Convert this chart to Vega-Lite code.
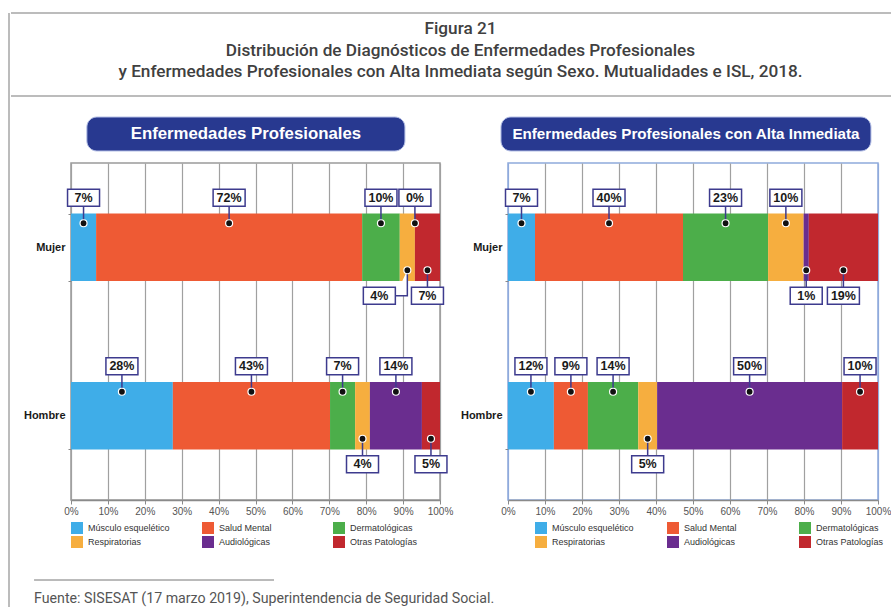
{
  "$schema": "https://vega.github.io/schema/vega-lite/v6.json",
  "background": "white",
  "padding": {"left": 8, "top": 12, "right": 0, "bottom": 0},
  "config": {
    "view": {"stroke": null},
    "font": "Liberation Sans",
    "axisX": {"grid": true, "gridColor": "#a0a0a0", "gridWidth": 1.2, "domainColor": "#8a8a8a", "domainWidth": 1.5, "tickColor": "#8a8a8a", "tickSize": 4, "labelFontSize": 10, "labelColor": "#555555", "labelPadding": 2, "labelFlush": false, "labelOverlap": false, "labelFont": "Liberation Sans"}
  },
  "datasets": {
    "ep": [
      {"sexo": "Mujer", "categoria": "Músculo esquelético", "orden": 1, "valor": 0.068, "pos": "arriba"},
      {"sexo": "Mujer", "categoria": "Salud Mental", "orden": 2, "valor": 0.721, "pos": "arriba"},
      {"sexo": "Mujer", "categoria": "Dermatológicas", "orden": 3, "valor": 0.102, "pos": "arriba"},
      {"sexo": "Mujer", "categoria": "Respiratorias", "orden": 4, "valor": 0.041, "pos": "izq"},
      {"sexo": "Mujer", "categoria": "Audiológicas", "orden": 5, "valor": 0.0, "pos": "arriba"},
      {"sexo": "Mujer", "categoria": "Otras Patologías", "orden": 6, "valor": 0.068, "pos": "abajo"},
      {"sexo": "Hombre", "categoria": "Músculo esquelético", "orden": 1, "valor": 0.276, "pos": "arriba"},
      {"sexo": "Hombre", "categoria": "Salud Mental", "orden": 2, "valor": 0.426, "pos": "arriba"},
      {"sexo": "Hombre", "categoria": "Dermatológicas", "orden": 3, "valor": 0.068, "pos": "arriba"},
      {"sexo": "Hombre", "categoria": "Respiratorias", "orden": 4, "valor": 0.04, "pos": "abajo"},
      {"sexo": "Hombre", "categoria": "Audiológicas", "orden": 5, "valor": 0.141, "pos": "arriba"},
      {"sexo": "Hombre", "categoria": "Otras Patologías", "orden": 6, "valor": 0.049, "pos": "abajo"}
    ],
    "epai": [
      {"sexo": "Mujer", "categoria": "Músculo esquelético", "orden": 1, "valor": 0.073, "pos": "arriba"},
      {"sexo": "Mujer", "categoria": "Salud Mental", "orden": 2, "valor": 0.4, "pos": "arriba"},
      {"sexo": "Mujer", "categoria": "Dermatológicas", "orden": 3, "valor": 0.23, "pos": "arriba"},
      {"sexo": "Mujer", "categoria": "Respiratorias", "orden": 4, "valor": 0.096, "pos": "arriba"},
      {"sexo": "Mujer", "categoria": "Audiológicas", "orden": 5, "valor": 0.014, "pos": "abajo"},
      {"sexo": "Mujer", "categoria": "Otras Patologías", "orden": 6, "valor": 0.187, "pos": "abajo"},
      {"sexo": "Hombre", "categoria": "Músculo esquelético", "orden": 1, "valor": 0.124, "pos": "arriba"},
      {"sexo": "Hombre", "categoria": "Salud Mental", "orden": 2, "valor": 0.092, "pos": "arriba"},
      {"sexo": "Hombre", "categoria": "Dermatológicas", "orden": 3, "valor": 0.136, "pos": "arriba"},
      {"sexo": "Hombre", "categoria": "Respiratorias", "orden": 4, "valor": 0.051, "pos": "abajo"},
      {"sexo": "Hombre", "categoria": "Audiológicas", "orden": 5, "valor": 0.5, "pos": "arriba"},
      {"sexo": "Hombre", "categoria": "Otras Patologías", "orden": 6, "valor": 0.097, "pos": "arriba"}
    ]
  },
  "spacing": 0,
  "hconcat": [
    {
      "width": 1, "height": 594,
      "data": {"values": [{}]},
      "mark": {"type": "rule", "color": "#a6a6a6", "strokeWidth": 1.5},
      "encoding": {"x": {"datum": 1, "type": "quantitative", "scale": {"domain": [0, 1]}, "axis": null}}
    },
    {
      "spacing": 19,
      "vconcat": [
        {
          "width": 820, "height": 83,
          "resolve": {"scale": {"y": "independent"}},
          "layer": [
            {"data": {"values": [{}]},
             "mark": {"type": "rule", "color": "#a6a6a6", "strokeWidth": 1.5},
             "encoding": {"x": {"datum": -0.0732, "type": "quantitative", "scale": {"domain": [0, 1], "nice": false, "zero": false}, "axis": null},
                          "x2": {"datum": 1},
                          "y": {"datum": 1, "type": "quantitative", "scale": {"domain": [0, 1]}, "axis": null}}},
            {"data": {"values": [{}]},
             "mark": {"type": "rule", "color": "#a6a6a6", "strokeWidth": 1.5},
             "encoding": {"x": {"datum": -0.0732, "type": "quantitative"},
                          "x2": {"datum": 1},
                          "y": {"datum": 0, "type": "quantitative", "scale": {"domain": [0, 1]}, "axis": null}}},
            {"data": {"values": [
               {"i": 0, "t": "Figura 21"},
               {"i": 1, "t": "Distribución de Diagnósticos de Enfermedades Profesionales"},
               {"i": 2, "t": "y Enfermedades Profesionales con Alta Inmediata según Sexo. Mutualidades e ISL, 2018."}
             ]},
             "mark": {"type": "text", "font": "Roboto", "fontSize": 17.2, "fontWeight": 500, "color": "#404040"},
             "encoding": {
               "text": {"field": "t"},
               "x": {"datum": 0.475, "type": "quantitative"},
               "y": {"field": "i", "type": "ordinal", "scale": {"type": "point", "padding": 0.93, "align": 0.4}, "axis": null}
             }}
          ]
        },
        {
          "spacing": 30,
          "vconcat": [
            {
              "spacing": 0,
              "resolve": {"legend": {"color": "independent"}},
              "hconcat": [
                {
                  "spacing": 12,
                  "bounds": "flush",
                  "resolve": {"legend": {"color": "independent"}},
                  "vconcat": [
                    {
                      "width": 369, "height": 34,
                      "data": {"values": [{"t": "Enfermedades Profesionales"}]},
                      "layer": [
                        {"mark": {"type": "rect", "cornerRadius": 10, "fill": "#283990", "stroke": "#b4bfe6", "strokeWidth": 1},
                         "encoding": {"x": {"datum": 0.043, "type": "quantitative", "scale": {"domain": [0, 1], "nice": false}, "axis": null}, "x2": {"datum": 0.905}}},
                        {"mark": {"type": "text", "color": "white", "fontWeight": "bold", "fontSize": 16.8, "font": "Liberation Sans"},
                         "encoding": {"text": {"field": "t"}, "x": {"datum": 0.474, "type": "quantitative"}}}
                      ]
                    },
                    {
                      "width": 369, "height": 337,
                      "view": {"stroke": "#9a9a9a", "strokeWidth": 1.5},
                      "data": {"name": "ep"},
                      "encoding": {
                        "y": {"field": "sexo", "type": "nominal", "sort": ["Mujer", "Hombre"], "scale": {"paddingInner": 0.6, "paddingOuter": 0.3},
                              "axis": {"title": null, "labelFontWeight": "bold", "labelFontSize": 11, "labelColor": "#1a1a1a", "labelFont": "Liberation Sans", "labelPadding": 3, "ticks": true, "tickBand": "extent", "tickSize": 3, "tickColor": "#888", "domain": false, "minExtent": 59, "maxExtent": 59}},
                        "order": {"field": "orden", "type": "quantitative"},
                        "detail": {"field": "categoria"}
                      },
                      "layer": [
                        {"mark": {"type": "bar"},
                         "encoding": {
                           "x": {"field": "valor", "type": "quantitative", "stack": "zero", "title": null, "scale": {"domain": [0, 1], "nice": false},
                                 "axis": {"format": ".0%", "values": [0, 0.1, 0.2, 0.3, 0.4, 0.5, 0.6, 0.7, 0.8, 0.9, 1]}},
                           "color": {"field": "categoria", "type": "nominal",
                                     "scale": {"domain": ["Músculo esquelético", "Salud Mental", "Dermatológicas", "Respiratorias", "Audiológicas", "Otras Patologías"],
                                               "range": ["#3fade8", "#ee5a34", "#4cae4a", "#f6ae3f", "#6a2d8f", "#c1282e"]},
                                     "legend": {"title": null, "orient": "bottom", "direction": "horizontal", "columns": 3, "symbolType": "square", "symbolSize": 144, "symbolStrokeWidth": 0, "labelFontSize": 9, "labelColor": "#333", "labelFont": "Liberation Sans", "labelOffset": 5, "rowPadding": 2, "columnPadding": 32, "gridAlign": "all", "offset": 6}}
                         }},
                        {"mark": {"type": "point", "shape": "M0,-24V-41M-16,-41H16V-58H-16Z", "size": 4, "filled": true, "fill": "#ffffff", "stroke": "#3d3b8e", "strokeWidth": 1.5},
                         "encoding": {"x": {"field": "valor", "type": "quantitative", "stack": "zero", "bandPosition": 0.5, "title": null, "scale": {"domain": [0, 1], "nice": false}, "axis": {"format": ".0%", "values": [0, 0.1, 0.2, 0.3, 0.4, 0.5, 0.6, 0.7, 0.8, 0.9, 1]}},
                                      "opacity": {"condition": {"test": "datum.pos === 'arriba'", "value": 1}, "value": 0}}},
                        {"mark": {"type": "point", "shape": "M0,23V40M-16,40H16V57H-16Z", "size": 4, "filled": true, "fill": "#ffffff", "stroke": "#3d3b8e", "strokeWidth": 1.5},
                         "encoding": {"x": {"field": "valor", "type": "quantitative", "stack": "zero", "bandPosition": 0.5, "title": null, "scale": {"domain": [0, 1], "nice": false}, "axis": {"format": ".0%", "values": [0, 0.1, 0.2, 0.3, 0.4, 0.5, 0.6, 0.7, 0.8, 0.9, 1]}},
                                      "opacity": {"condition": {"test": "datum.pos === 'abajo'", "value": 1}, "value": 0}}},
                        {"mark": {"type": "point", "shape": "M0,23V48.5H-12M-12,40H-44V57H-12Z", "size": 4, "filled": true, "fill": "#ffffff", "stroke": "#3d3b8e", "strokeWidth": 1.5},
                         "encoding": {"x": {"field": "valor", "type": "quantitative", "stack": "zero", "bandPosition": 0.5, "title": null, "scale": {"domain": [0, 1], "nice": false}, "axis": {"format": ".0%", "values": [0, 0.1, 0.2, 0.3, 0.4, 0.5, 0.6, 0.7, 0.8, 0.9, 1]}},
                                      "opacity": {"condition": {"test": "datum.pos === 'izq'", "value": 1}, "value": 0}}},
                        {"mark": {"type": "point", "shape": "M-3.5,-24A3.5,3.5,0,1,0,3.5,-24A3.5,3.5,0,1,0,-3.5,-24Z", "size": 4, "filled": true, "fill": "#111111", "stroke": "#ffffff", "strokeWidth": 1.2},
                         "encoding": {"x": {"field": "valor", "type": "quantitative", "stack": "zero", "bandPosition": 0.5, "title": null, "scale": {"domain": [0, 1], "nice": false}, "axis": {"format": ".0%", "values": [0, 0.1, 0.2, 0.3, 0.4, 0.5, 0.6, 0.7, 0.8, 0.9, 1]}},
                                      "opacity": {"condition": {"test": "datum.pos === 'arriba'", "value": 1}, "value": 0}}},
                        {"mark": {"type": "point", "shape": "M-3.5,23A3.5,3.5,0,1,0,3.5,23A3.5,3.5,0,1,0,-3.5,23Z", "size": 4, "filled": true, "fill": "#111111", "stroke": "#ffffff", "strokeWidth": 1.2},
                         "encoding": {"x": {"field": "valor", "type": "quantitative", "stack": "zero", "bandPosition": 0.5, "title": null, "scale": {"domain": [0, 1], "nice": false}, "axis": {"format": ".0%", "values": [0, 0.1, 0.2, 0.3, 0.4, 0.5, 0.6, 0.7, 0.8, 0.9, 1]}},
                                      "opacity": {"condition": {"test": "datum.pos !== 'arriba'", "value": 1}, "value": 0}}},
                        {"mark": {"type": "text", "font": "Liberation Sans", "fontWeight": "bold", "fontSize": 12.5, "color": "#1a1a1a", "dy": -49.5},
                         "encoding": {"x": {"field": "valor", "type": "quantitative", "stack": "zero", "bandPosition": 0.5, "title": null, "scale": {"domain": [0, 1], "nice": false}, "axis": {"format": ".0%", "values": [0, 0.1, 0.2, 0.3, 0.4, 0.5, 0.6, 0.7, 0.8, 0.9, 1]}},
                                      "text": {"field": "valor", "type": "quantitative", "format": ".0%"},
                                      "opacity": {"condition": {"test": "datum.pos === 'arriba'", "value": 1}, "value": 0}}},
                        {"mark": {"type": "text", "font": "Liberation Sans", "fontWeight": "bold", "fontSize": 12.5, "color": "#1a1a1a", "dy": 48.5},
                         "encoding": {"x": {"field": "valor", "type": "quantitative", "stack": "zero", "bandPosition": 0.5, "title": null, "scale": {"domain": [0, 1], "nice": false}, "axis": {"format": ".0%", "values": [0, 0.1, 0.2, 0.3, 0.4, 0.5, 0.6, 0.7, 0.8, 0.9, 1]}},
                                      "text": {"field": "valor", "type": "quantitative", "format": ".0%"},
                                      "opacity": {"condition": {"test": "datum.pos === 'abajo'", "value": 1}, "value": 0}}},
                        {"mark": {"type": "text", "font": "Liberation Sans", "fontWeight": "bold", "fontSize": 12.5, "color": "#1a1a1a", "dx": -28, "dy": 48.5},
                         "encoding": {"x": {"field": "valor", "type": "quantitative", "stack": "zero", "bandPosition": 0.5, "title": null, "scale": {"domain": [0, 1], "nice": false}, "axis": {"format": ".0%", "values": [0, 0.1, 0.2, 0.3, 0.4, 0.5, 0.6, 0.7, 0.8, 0.9, 1]}},
                                      "text": {"field": "valor", "type": "quantitative", "format": ".0%"},
                                      "opacity": {"condition": {"test": "datum.pos === 'izq'", "value": 1}, "value": 0}}}
                      ]
                    }
                  ]
                },
                {
                  "spacing": 12,
                  "bounds": "flush",
                  "resolve": {"legend": {"color": "independent"}},
                  "vconcat": [
                    {
                      "width": 370, "height": 34,
                      "data": {"values": [{"t": "Enfermedades Profesionales con Alta Inmediata"}]},
                      "layer": [
                        {"mark": {"type": "rect", "cornerRadius": 10, "fill": "#283990", "stroke": "#b4bfe6", "strokeWidth": 1},
                         "encoding": {"x": {"datum": -0.019, "type": "quantitative", "scale": {"domain": [0, 1], "nice": false}, "axis": null}, "x2": {"datum": 0.981}}},
                        {"mark": {"type": "text", "color": "white", "fontWeight": "bold", "fontSize": 15.2, "font": "Liberation Sans"},
                         "encoding": {"text": {"field": "t"}, "x": {"datum": 0.481, "type": "quantitative"}}}
                      ]
                    },
                    {
                      "width": 370, "height": 337,
                      "view": {"stroke": "#8faadc", "strokeWidth": 1.5},
                      "data": {"name": "epai"},
                      "encoding": {
                        "y": {"field": "sexo", "type": "nominal", "sort": ["Mujer", "Hombre"], "scale": {"paddingInner": 0.6, "paddingOuter": 0.3},
                              "axis": {"title": null, "labelFontWeight": "bold", "labelFontSize": 11, "labelColor": "#1a1a1a", "labelFont": "Liberation Sans", "labelPadding": 3, "ticks": true, "tickBand": "extent", "tickSize": 3, "tickColor": "#888", "domain": false, "minExtent": 53, "maxExtent": 53}},
                        "order": {"field": "orden", "type": "quantitative"},
                        "detail": {"field": "categoria"}
                      },
                      "layer": [
                        {"mark": {"type": "bar"},
                         "encoding": {
                           "x": {"field": "valor", "type": "quantitative", "stack": "zero", "title": null, "scale": {"domain": [0, 1], "nice": false},
                                 "axis": {"format": ".0%", "values": [0, 0.1, 0.2, 0.3, 0.4, 0.5, 0.6, 0.7, 0.8, 0.9, 1], "gridColor": {"condition": {"test": "datum.value === 0 || datum.value === 1", "value": "#8faadc"}, "value": "#a0a0a0"}}},
                           "color": {"field": "categoria", "type": "nominal",
                                     "scale": {"domain": ["Músculo esquelético", "Salud Mental", "Dermatológicas", "Respiratorias", "Audiológicas", "Otras Patologías"],
                                               "range": ["#3fade8", "#ee5a34", "#4cae4a", "#f6ae3f", "#6a2d8f", "#c1282e"]},
                                     "legend": {"title": null, "orient": "bottom", "direction": "horizontal", "columns": 3, "symbolType": "square", "symbolSize": 144, "symbolStrokeWidth": 0, "symbolOffset": 27, "labelFontSize": 9, "labelColor": "#333", "labelFont": "Liberation Sans", "labelOffset": 5, "rowPadding": 2, "columnPadding": 6, "gridAlign": "all", "offset": 6}}
                         }},
                        {"mark": {"type": "point", "shape": "M0,-24V-41M-16,-41H16V-58H-16Z", "size": 4, "filled": true, "fill": "#ffffff", "stroke": "#3d3b8e", "strokeWidth": 1.5},
                         "encoding": {"x": {"field": "valor", "type": "quantitative", "stack": "zero", "bandPosition": 0.5, "title": null, "scale": {"domain": [0, 1], "nice": false}, "axis": {"format": ".0%", "values": [0, 0.1, 0.2, 0.3, 0.4, 0.5, 0.6, 0.7, 0.8, 0.9, 1], "gridColor": {"condition": {"test": "datum.value === 0 || datum.value === 1", "value": "#8faadc"}, "value": "#a0a0a0"}}},
                                      "opacity": {"condition": {"test": "datum.pos === 'arriba'", "value": 1}, "value": 0}}},
                        {"mark": {"type": "point", "shape": "M0,23V40M-16,40H16V57H-16Z", "size": 4, "filled": true, "fill": "#ffffff", "stroke": "#3d3b8e", "strokeWidth": 1.5},
                         "encoding": {"x": {"field": "valor", "type": "quantitative", "stack": "zero", "bandPosition": 0.5, "title": null, "scale": {"domain": [0, 1], "nice": false}, "axis": {"format": ".0%", "values": [0, 0.1, 0.2, 0.3, 0.4, 0.5, 0.6, 0.7, 0.8, 0.9, 1], "gridColor": {"condition": {"test": "datum.value === 0 || datum.value === 1", "value": "#8faadc"}, "value": "#a0a0a0"}}},
                                      "opacity": {"condition": {"test": "datum.pos === 'abajo'", "value": 1}, "value": 0}}},
                        {"mark": {"type": "point", "shape": "M-3.5,-24A3.5,3.5,0,1,0,3.5,-24A3.5,3.5,0,1,0,-3.5,-24Z", "size": 4, "filled": true, "fill": "#111111", "stroke": "#ffffff", "strokeWidth": 1.2},
                         "encoding": {"x": {"field": "valor", "type": "quantitative", "stack": "zero", "bandPosition": 0.5, "title": null, "scale": {"domain": [0, 1], "nice": false}, "axis": {"format": ".0%", "values": [0, 0.1, 0.2, 0.3, 0.4, 0.5, 0.6, 0.7, 0.8, 0.9, 1], "gridColor": {"condition": {"test": "datum.value === 0 || datum.value === 1", "value": "#8faadc"}, "value": "#a0a0a0"}}},
                                      "opacity": {"condition": {"test": "datum.pos === 'arriba'", "value": 1}, "value": 0}}},
                        {"mark": {"type": "point", "shape": "M-3.5,23A3.5,3.5,0,1,0,3.5,23A3.5,3.5,0,1,0,-3.5,23Z", "size": 4, "filled": true, "fill": "#111111", "stroke": "#ffffff", "strokeWidth": 1.2},
                         "encoding": {"x": {"field": "valor", "type": "quantitative", "stack": "zero", "bandPosition": 0.5, "title": null, "scale": {"domain": [0, 1], "nice": false}, "axis": {"format": ".0%", "values": [0, 0.1, 0.2, 0.3, 0.4, 0.5, 0.6, 0.7, 0.8, 0.9, 1], "gridColor": {"condition": {"test": "datum.value === 0 || datum.value === 1", "value": "#8faadc"}, "value": "#a0a0a0"}}},
                                      "opacity": {"condition": {"test": "datum.pos !== 'arriba'", "value": 1}, "value": 0}}},
                        {"mark": {"type": "text", "font": "Liberation Sans", "fontWeight": "bold", "fontSize": 12.5, "color": "#1a1a1a", "dy": -49.5},
                         "encoding": {"x": {"field": "valor", "type": "quantitative", "stack": "zero", "bandPosition": 0.5, "title": null, "scale": {"domain": [0, 1], "nice": false}, "axis": {"format": ".0%", "values": [0, 0.1, 0.2, 0.3, 0.4, 0.5, 0.6, 0.7, 0.8, 0.9, 1], "gridColor": {"condition": {"test": "datum.value === 0 || datum.value === 1", "value": "#8faadc"}, "value": "#a0a0a0"}}},
                                      "text": {"field": "valor", "type": "quantitative", "format": ".0%"},
                                      "opacity": {"condition": {"test": "datum.pos === 'arriba'", "value": 1}, "value": 0}}},
                        {"mark": {"type": "text", "font": "Liberation Sans", "fontWeight": "bold", "fontSize": 12.5, "color": "#1a1a1a", "dy": 48.5},
                         "encoding": {"x": {"field": "valor", "type": "quantitative", "stack": "zero", "bandPosition": 0.5, "title": null, "scale": {"domain": [0, 1], "nice": false}, "axis": {"format": ".0%", "values": [0, 0.1, 0.2, 0.3, 0.4, 0.5, 0.6, 0.7, 0.8, 0.9, 1], "gridColor": {"condition": {"test": "datum.value === 0 || datum.value === 1", "value": "#8faadc"}, "value": "#a0a0a0"}}},
                                      "text": {"field": "valor", "type": "quantitative", "format": ".0%"},
                                      "opacity": {"condition": {"test": "datum.pos === 'abajo'", "value": 1}, "value": 0}}}
                      ]
                    }
                  ]
                }
              ]
            },
            {
              "width": 203, "height": 19,
              "layer": [
                {"data": {"values": [{}]},
                 "mark": {"type": "rule", "color": "#777777", "strokeWidth": 1},
                 "encoding": {"x": {"datum": -0.182, "type": "quantitative", "scale": {"domain": [0, 1], "nice": false, "zero": false}, "axis": null},
                              "x2": {"datum": 1},
                              "y": {"datum": 1, "type": "quantitative", "scale": {"domain": [0, 1]}, "axis": null}}},
                {"data": {"values": [{"t": "Fuente: SISESAT (17 marzo 2019), Superintendencia de Seguridad Social."}]},
                 "mark": {"type": "text", "align": "left", "font": "Roboto", "fontSize": 14.2, "color": "#555555"},
                 "encoding": {"text": {"field": "t"}, "x": {"datum": -0.182, "type": "quantitative"}, "y": {"datum": 0, "type": "quantitative"}}}
              ]
            }
          ]
        }
      ]
    }
  ]
}
